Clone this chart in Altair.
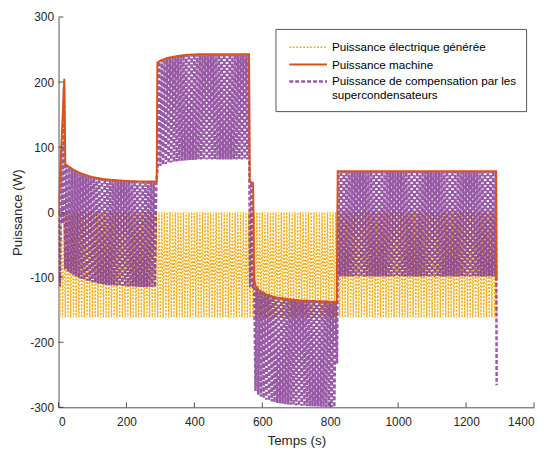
import altair as alt
import numpy as np
import pandas as pd

# --- values ---
series_names = ["Puissance électrique générée",
                "Puissance machine",
                "Puissance de compensation par les supercondensateurs"]

# machine power (W) key points
machine_t = [0, 17, 20, 30, 45, 60, 80, 100, 130, 160, 200, 250, 289,
             291, 300, 320, 350, 380, 420, 470, 520, 561,
             563, 573, 576, 580, 590, 610, 640, 680, 720, 770, 819,
             822, 900, 1000, 1100, 1200, 1288, 1290]
machine_p = [0, 205, 74, 70, 65, 61, 57, 54, 51, 49.5, 48, 47, 47,
             230, 233, 237, 240, 242, 243, 243, 243, 243,
             47, 45, -105, -113, -120, -126, -131, -134, -136, -137, -138,
             63, 63, 63, 63, 63, 63, -104]

# generated electrical power: fast oscillation between these extremes
elec_high = 0
elec_low = -162
elec_half_period = 4.0   # s
t_end = 1290

x_ticks = [0, 200, 400, 600, 800, 1000, 1200, 1400]
y_ticks = [-300, -200, -100, 0, 100, 200, 300]

# --- build tables ---
n_half = int(t_end / elec_half_period)
elec_t = [k * elec_half_period for k in range(n_half + 1)] + [t_end]
elec_p = [elec_high if k % 2 == 0 else elec_low for k in range(n_half + 1)] + [elec_low]
comp_p = list(np.interp(elec_t, machine_t, machine_p) + np.array(elec_p))

df = pd.concat([
    pd.DataFrame({"t": elec_t, "p": elec_p, "serie": series_names[0]}),
    pd.DataFrame({"t": machine_t, "p": machine_p, "serie": series_names[1]}),
    pd.DataFrame({"t": elec_t, "p": comp_p, "serie": series_names[2]}),
])

W, H = 480, 394
xs = alt.Scale(domain=[0, 1400], nice=False, zero=False)
ys = alt.Scale(domain=[-300, 300], nice=False, zero=False)

colors = ["rgba(237,177,32,1)", "#D95319", "rgba(126,47,142,0.8)"]
dashes = [[2, 1.5], [1, 0], [4, 2]]
widths = [1.4, 2.5, 1]

label_expr = ("datum.label == 'Puissance de compensation par les supercondensateurs' ? "
              "['Puissance de compensation par les', 'supercondensateurs'] : datum.label")

leg = alt.Legend(title=None, labelExpr=label_expr)
enc_common = dict(
    x=alt.X("t:Q", scale=xs, axis=alt.Axis(values=x_ticks, title="Temps (s)",
                                           labelExpr="toString(datum.value)")),
    y=alt.Y("p:Q", scale=ys, axis=alt.Axis(values=y_ticks, title="Puissance (W)",
                                           labelExpr="toString(datum.value)")),
    color=alt.Color("serie:N", scale=alt.Scale(domain=series_names, range=colors), legend=leg),
    strokeDash=alt.StrokeDash("serie:N", scale=alt.Scale(domain=series_names, range=dashes), legend=leg),
    strokeWidth=alt.StrokeWidth("serie:N", scale=alt.Scale(domain=series_names, range=widths), legend=leg),
)

def layer_for(name):
    return alt.Chart(df).transform_filter(alt.datum.serie == name).mark_line(
        clip=True).encode(**enc_common)

lines = alt.layer(layer_for(series_names[0]), layer_for(series_names[2]),
                  layer_for(series_names[1]))

xt = alt.Chart(pd.DataFrame({"v": x_ticks})).mark_rule(color="#262626", strokeWidth=0.8).encode(
    x=alt.X("v:Q", scale=xs), y=alt.value(H), y2=alt.value(H - 5))
yt = alt.Chart(pd.DataFrame({"v": y_ticks})).mark_rule(color="#262626", strokeWidth=0.8).encode(
    y=alt.Y("v:Q", scale=ys), x=alt.value(0), x2=alt.value(5))

chart = alt.layer(lines, xt, yt).properties(
    width=W, height=H,
    autosize=alt.AutoSizeParams(type="none"),
    padding={"left": 51, "top": 7, "right": 2, "bottom": 42},
).configure_view(stroke=None).configure_axis(
    grid=False, domainColor="#262626", domainWidth=0.8, tickSize=0,
    labelFont="Liberation Sans", labelFontSize=12, labelColor="#262626",
    titleFont="Liberation Sans", titleFontSize=13.5, titleFontWeight="normal", titleColor="#262626",
).configure_axisX(labelPadding=9, titlePadding=7
).configure_axisY(labelPadding=5, titlePadding=5
).configure_legend(
    orient="none", legendX=219, legendY=12, strokeColor="#555555", fillColor="white",
    padding=9, symbolType="M-2.2,0H2.2", symbolSize=300, symbolOffset=14,
    labelFont="Liberation Sans", labelFontSize=11.8, labelColor="#000000",
    rowPadding=0, labelOffset=14, labelLimit=300,
)

chart.save("out.html", embed_options={"renderer": "svg", "actions": False})
